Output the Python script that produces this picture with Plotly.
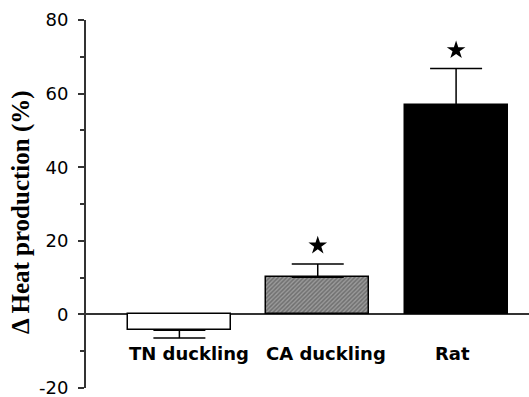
import plotly.graph_objects as go

categories = ["TN duckling", "CA duckling", "Rat"]
means = [-4.3, 10.1, 56.8]
sem = [2.1, 3.6, 10.0]
significant = [False, True, True]
bar_fills = ["white", "#9a9a9a", "black"]
y_ticks = [-20, 0, 20, 40, 60, 80]
y_tick_text = ["-20", "0", "20", "40", "60", "80"]

x = list(range(len(categories)))
err_up = [s if m >= 0 else 0 for m, s in zip(means, sem)]
err_dn = [s if m < 0 else 0 for m, s in zip(means, sem)]

fig = go.Figure()
fig.add_trace(go.Bar(
    x=x, y=means, width=0.744,
    marker=dict(
        color=bar_fills,
        line=dict(color="black", width=1.5),
        pattern=dict(shape=["", "/", ""], size=3, solidity=0.5,
                     fgcolor="#1a1a1a", fillmode="overlay"),
    ),
    error_y=dict(type="data", symmetric=False, array=err_up, arrayminus=err_dn,
                 color="black", thickness=1.5, width=26),
    showlegend=False,
))

star_x = [xi for xi, s in zip(x, significant) if s]
star_y = [m + e + 5 for m, e, s in zip(means, sem, significant) if s]
fig.add_trace(go.Scatter(
    x=star_x, y=star_y, mode="markers",
    marker=dict(symbol="star", size=14, color="black"),
    showlegend=False,
))

label_shift = [10, 8, -4]
for xi, lab, sh in zip(x, categories, label_shift):
    fig.add_annotation(x=xi, y=-10.5, text=lab, showarrow=False, xshift=sh,
                       font=dict(family="DejaVu Sans", size=18, color="black", weight="bold"),
                       xanchor="center", yanchor="middle")

fig.add_annotation(xref="paper", yref="paper", x=-0.1467, y=0.478,
                   text="Δ Heat production (%)", textangle=-90, showarrow=False,
                   xanchor="center", yanchor="middle",
                   font=dict(family="Liberation Serif", size=25, color="black", weight="bold"))

fig.update_layout(
    width=529, height=397,
    margin=dict(l=86, r=0, t=20, b=9),
    paper_bgcolor="white", plot_bgcolor="white",
    bargap=0,
)
fig.update_xaxes(range=[-0.675, 2.527], showgrid=False, showticklabels=False,
                 zeroline=False, showline=False, ticks="")
fig.update_yaxes(range=[-20, 80], tickvals=y_ticks, ticktext=y_tick_text, showgrid=False,
                 zeroline=True, zerolinecolor="#333333", zerolinewidth=2,
                 showline=True, linecolor="#333333", linewidth=2,
                 ticks="outside", ticklen=6, tickwidth=1.5, tickcolor="#333333",
                 minor=dict(dtick=10, ticks="outside", ticklen=4, tickwidth=1.5, tickcolor="#333333"),
                 ticklabelstandoff=6, ticklabeloverflow="allow",
                 tickfont=dict(family="DejaVu Sans", size=18, color="black"))

fig.write_html("out.html")
